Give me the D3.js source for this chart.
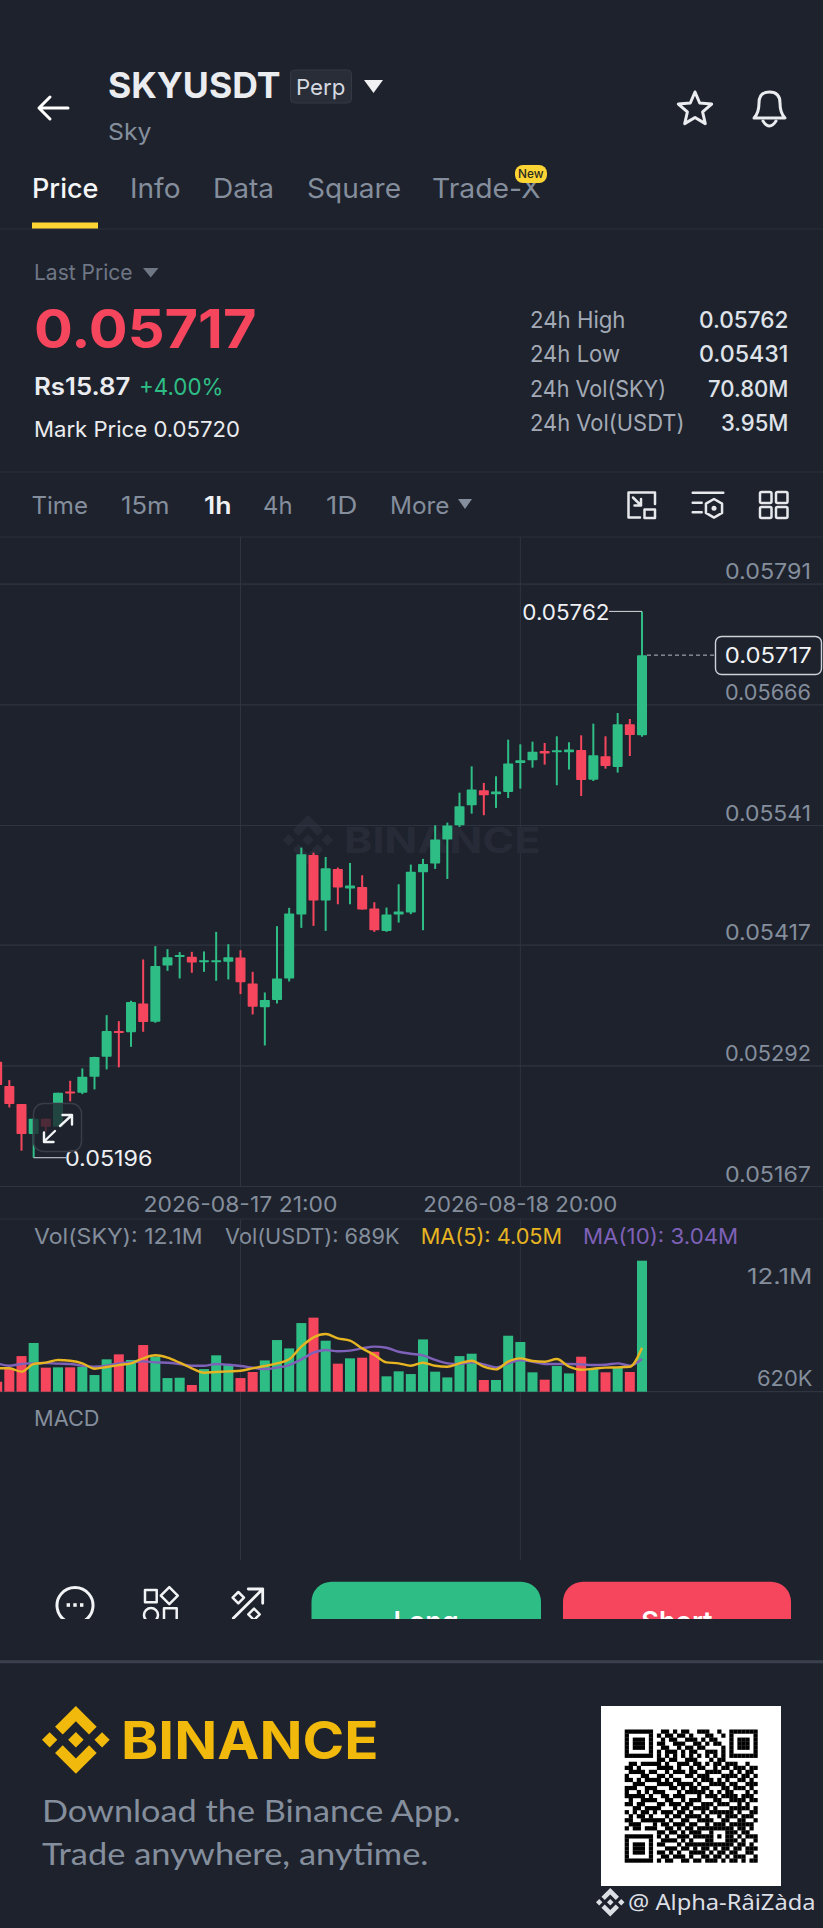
<!DOCTYPE html>
<html><head><meta charset="utf-8">
<script src="https://cdn.jsdelivr.net/npm/d3@7"></script>
<style>html,body{margin:0;padding:0;background:#1e222d}svg{display:block}text{font-family:Inter,Roboto,sans-serif}</style>
</head><body><svg id="c" width="823" height="1928"></svg>
<script>
const opens=[0.052957,0.052705,0.052519,0.052208,0.052367,0.052284,0.05265,0.052636,0.052802,0.053009,0.053275,0.053264,0.053561,0.053371,0.053955,0.054044,0.054044,0.053989,0.053989,0.053993,0.054037,0.053768,0.053523,0.053596,0.05382,0.054482,0.0551,0.054627,0.054955,0.054751,0.054769,0.054544,0.054313,0.054482,0.054503,0.05492,0.05501,0.055259,0.055407,0.055615,0.05577,0.055728,0.055753,0.056053,0.05608,0.056177,0.056163,0.056163,0.056187,0.05588,0.056122,0.056012,0.056453,0.056339];
const highs=[0.053009,0.052767,0.052519,0.052367,0.052367,0.052636,0.05276,0.052888,0.053009,0.05344,0.053378,0.053589,0.054017,0.054155,0.054124,0.054093,0.054096,0.0541,0.054303,0.054175,0.054113,0.053889,0.053675,0.054362,0.054552,0.055176,0.055124,0.055079,0.054969,0.055017,0.054889,0.05461,0.054555,0.054796,0.055,0.055059,0.055407,0.055435,0.055745,0.056018,0.055846,0.055915,0.056294,0.056246,0.056274,0.05626,0.056329,0.056267,0.056339,0.05646,0.056329,0.05657,0.056508,0.057623];
const lows=[0.052705,0.052484,0.052036,0.051963,0.052232,0.052284,0.052547,0.052622,0.052671,0.052878,0.052899,0.053112,0.053268,0.053361,0.053899,0.05382,0.053879,0.053889,0.053796,0.05381,0.053658,0.053447,0.053126,0.053561,0.053789,0.054344,0.054365,0.054313,0.054589,0.054589,0.054534,0.054303,0.054303,0.054399,0.054486,0.05432,0.054955,0.054851,0.05539,0.055528,0.055511,0.055587,0.05569,0.055787,0.056004,0.056036,0.055822,0.055984,0.055711,0.055866,0.055994,0.055953,0.056125,0.056325];
const closes=[0.052716,0.052519,0.052208,0.052367,0.052284,0.052636,0.05263,0.052802,0.053006,0.053275,0.053254,0.053575,0.053368,0.053948,0.054041,0.054062,0.053986,0.05401,0.05401,0.054041,0.053782,0.053527,0.053596,0.05382,0.054493,0.055107,0.054627,0.054962,0.054762,0.054782,0.054534,0.05432,0.054482,0.054513,0.054927,0.055007,0.055259,0.055404,0.055604,0.055777,0.055718,0.055756,0.056046,0.05608,0.05617,0.05615,0.056184,0.056191,0.055877,0.056132,0.056022,0.056453,0.056343,0.05717];
const volumes=[0.92,2.16,3.29,4.5,2.22,2.25,2.25,2.31,1.54,2.99,3.45,2.93,4.31,3.23,1.26,1.29,0.62,2.09,3.36,2.46,1.26,1.82,2.89,4.77,4.0,6.34,6.84,4.71,2.59,3.08,3.14,3.69,1.42,1.88,1.63,4.83,1.85,1.32,3.29,3.51,1.08,1.08,5.17,4.59,1.79,1.11,2.37,1.69,3.23,2.19,1.79,2.19,1.82,12.1];
const ma5=[2.16,2.16,1.85,2.56,2.68,2.93,2.86,2.62,2.12,2.28,2.46,2.62,3.08,3.36,3.14,2.68,2.16,1.75,1.82,1.88,1.94,2.16,2.37,2.62,2.99,4.16,5.02,5.33,4.93,4.71,4.0,3.39,2.71,2.62,2.40,2.68,2.40,2.31,2.62,2.86,2.31,2.06,2.77,3.08,2.83,2.77,3.02,2.31,2.03,2.12,2.22,2.25,2.31,4.05];
const ma10=[2.62,2.40,2.56,2.62,2.65,2.59,2.56,2.40,2.31,2.40,2.62,2.71,2.80,2.71,2.68,2.56,2.40,2.40,2.56,2.49,2.37,2.22,2.09,2.22,2.46,2.99,3.60,3.85,3.73,3.79,4.0,4.16,4.06,3.69,3.51,3.36,2.93,2.62,2.56,2.71,2.52,2.25,2.62,2.93,2.77,2.56,2.56,2.56,2.52,2.46,2.49,2.62,2.40,3.04];
const priceTicks=[0.05791,0.05666,0.05541,0.05417,0.05292,0.05167];
const timeTickIndex=[20,43];
const timeTickLabels=["2026-08-17 21:00","2026-08-18 20:00"];
const tabs=["Price","Info","Data","Square","Trade-X"];
const intervals=["Time","15m","1h","4h","1D","More"];
const statLabels=["24h High","24h Low","24h Vol(SKY)","24h Vol(USDT)"];
const statValues=["0.05762","0.05431","70.80M","3.95M"];
const qrRows=["111111100110101100111001001111111","100000101011011010001100101000001","101110100101100111010110001011101","101110101100111001101011001011101","101110100110010110110000101011101","100000101011101011001110101000001","111111101010101010101010101111111","000000001101100111000101100000000","011011111010011101101011011100100","110100001111010010110010110111011","011110110010111011001111001010110","100011001101000110111000111101101","110101111010110001011101010011010","001110001111011110100111101100111","111001110001101011011000110111010","100101011100010111110101011000101","111110100110111000101110111101110","010011110011001011100011001111011","110110001101110110011101110010100","001101111000101101111010001111101","101011010111011010010111111010011","010110100010110111101001011101110","110011111101001100111100110011001","011100010110111011001011101111110","101101110011010110111111111011010","000000001101101011100100011101100","111111101010011101111101011010111","100000100111101010001100011101001","101110101100010111111111111011010","101110100011101101011010110110111","101110101101010011110101101100110","100000100110111010011011010111001","111111101011001101101110101101011"];

const BG="#1e222d",GREEN="#2ebd85",RED="#f6465d",GRID="#2f3440",GREY="#848e9c",LITE="#eaecef";
const LOGO="M38.73 53.2l24.59-24.58 24.6 24.6 14.3-14.31L63.32 0 24.42 38.9 38.73 53.2z M0 63.31l14.3-14.31 14.31 14.31-14.31 14.3z M38.73 73.41l24.59 24.59 24.6-24.6 14.31 14.29-38.9 38.91-38.91-38.88-.02-.02 14.33-14.29z M98 63.31l14.31-14.31 14.3 14.31-14.3 14.3z M77.83 63.3L63.32 48.78 52.59 59.51l-1.24 1.23-2.54 2.54 14.51 14.5 14.51-14.47z";

const svg=d3.select("#c");
svg.append("rect").attr("width",823).attr("height",1928).attr("fill",BG);
function T(x,y,s,size,fill,width,weight,font,parent){
  const t=(parent||svg).append("text").attr("x",width?x-1:x).attr("y",y).attr("font-size",size).attr("fill",fill).text(s);
  if(width){t.attr("textLength",width+1.5).attr("lengthAdjust","spacingAndGlyphs");}
  if(weight)t.attr("font-weight",weight);
  if(font)t.style("font-family",font);
  return t;
}
function line(x1,y1,x2,y2,c,w,parent){return (parent||svg).append("line").attr("x1",x1).attr("y1",y1).attr("x2",x2).attr("y2",y2).attr("stroke",c).attr("stroke-width",w||1);}
function tri(pts,c){svg.append("polygon").attr("points",pts).attr("fill",c);}
function icon(d,w,c,parent){return (parent||svg).append("path").attr("d",d).attr("fill","none").attr("stroke",c||LITE).attr("stroke-width",w||2.5).attr("stroke-linejoin","round").attr("stroke-linecap","round");}

// ---------- header ----------
icon("M68 108H39M50 97L39 108L50 119",3,"#fff");
T(109,98,"SKYUSDT",35,LITE,171,700);
svg.append("rect").attr("x",290.5).attr("y",70).attr("width",61).attr("height",33).attr("rx",4).attr("fill","#282d38").attr("stroke","#343945");
T(297,95,"Perp",22,"#d5d9e0",48);
tri("364,80 383,80 373.5,93","#f0f1f3");
T(109,140,"Sky",23,GREY,42);
const star=d3.range(10).map(i=>{const r=i%2?8:17.5,a=-Math.PI/2+i*Math.PI/5;return [695+r*Math.cos(a),109.5+r*Math.sin(a)];});
icon("M"+star.join("L")+"Z",3,LITE);
icon("M754 118Q759 113 759 103Q759 92 769.5 92Q780 92 780 103Q780 113 785 118Z",3,LITE);
icon("M763 121Q769.5 131 776 121",3,LITE);

const tabX=[[33,65],[131,49],[214,59.5],[308,92.5],[433,107]];
tabs.forEach((t,i)=>T(tabX[i][0],198,t,27,i?GREY:"#f5f6f7",tabX[i][1],i?400:500));
svg.append("rect").attr("x",515).attr("y",165).attr("width",32).attr("height",18).attr("rx",8).attr("fill","#fcd535");
T(519,178,"New",12,"#2a2a20",24,500);
svg.append("rect").attr("x",32).attr("y",222.5).attr("width",66).attr("height",6.5).attr("fill","#fcd535");
line(0,229,823,229,"#2a2f3a",1.2);

// ---------- price summary ----------
T(35,279.5,"Last Price",21.5,"#6f7785",97);
tri("143,268 158.5,268 150.7,277.5","#6f7785");
T(35,348,"0.05717",54,RED,221,700);
T(35,395,"Rs15.87",24,LITE,95,600);
T(140,395,"+4.00%",23.5,GREEN,83);
T(35,437,"Mark Price 0.05720",22,LITE,204.5);
const statY=[328,362,397,430.5],statW=[94,88.5,134.5,153],valX=[700,700,709,722];
statLabels.forEach((s,i)=>{
  T(531,statY[i],s,23,"#a3aab5",statW[i]);
  T(valX[i],statY[i],statValues[i],23,"#dfe3e9",788-valX[i],500);
});
line(0,472,823,472,"#2a2f3a",1.2);

const ivX=[[32.5,55],[122,47],[205,26],[264,28],[327,30],[391,58]];
intervals.forEach((s,i)=>T(ivX[i][0],514,s,24,s==="1h"?"#f0f1f3":GREY,ivX[i][1],s==="1h"?600:400));
tri("458,499 472,499 465,509",GREY);
icon("M655 504V492.5H628.5V517.5H640",2.5,"#e6e8ec");
icon("M644.5 509.5H655V518H644.5Z",2.5,"#e6e8ec");
icon("M633 497.5L641 505.5M641 499V505.5H634.5",2.5,"#e6e8ec");
icon("M692.7 492.7H723.3M692.7 502.7H701.7M692.7 512.3H701.7",2.5,"#e6e8ec");
const hex=d3.range(6).map(i=>{const a=-Math.PI/2+i*Math.PI/3;return [714+9.3*Math.cos(a),508.3+9.3*Math.sin(a)];});
icon("M"+hex.join("L")+"Z",2.5,"#e6e8ec");
svg.append("circle").attr("cx",714).attr("cy",508.3).attr("r",2.5).attr("fill","#e6e8ec");
[[760,492],[776,492],[760,507],[776,507]].forEach(p=>svg.append("rect").attr("x",p[0]).attr("y",p[1]).attr("width",11.5).attr("height",11).attr("rx",1.5).attr("fill","none").attr("stroke","#e6e8ec").attr("stroke-width",2.5));
line(0,537,823,537,"#2a2f3a",1.2);

// ---------- scales ----------
const x=d3.scaleLinear().domain([0,53]).range([-2.83,642]);
const y=d3.scaleLinear().domain([0.05167,0.05791]).range([1186,583.7]);
const v=d3.scaleLinear().domain([0,12.1]).range([1391.7,1260.7]);

// vertical grid
timeTickIndex.forEach(i=>{line(x(i),537,x(i),1186,GRID,1);line(x(i),1219,x(i),1560,GRID,1);});

// watermark
svg.append("path").attr("d",LOGO).attr("fill","#272b37").attr("transform","translate(283,815) scale(0.395)");
T(345,853,"BINANCE",36,"#272b37",195,700);

// price axis
const yAxis=d3.axisRight(y).tickValues(priceTicks).tickSize(823).tickFormat(d3.format(".5f"));
const ya=svg.append("g").call(yAxis);
ya.select(".domain").remove();
ya.selectAll(".tick line").attr("stroke",GRID).attr("stroke-width",1.2);
ya.selectAll(".tick text").attr("x",811).attr("dy",-5).attr("text-anchor","end").attr("font-size",21).attr("fill",GREY)
  .attr("textLength",86).attr("lengthAdjust","spacingAndGlyphs").style("font-family","Inter");

// time axis
const xAxis=d3.axisBottom(x).tickValues(timeTickIndex).tickSize(0).tickFormat((d,i)=>timeTickLabels[i]);
const xa=svg.append("g").attr("transform","translate(0,1190)").call(xAxis);
xa.select(".domain").remove();
xa.selectAll(".tick text").attr("y",22).attr("dy",0).attr("dx",-0.5).attr("font-size",21).attr("fill",GREY)
  .attr("textLength",194).attr("lengthAdjust","spacingAndGlyphs").style("font-family","Inter");
line(0,1219,823,1219,"#2a2f3a",1.2);

// candles
const idx=d3.range(opens.length);
const col=i=>closes[i]>=opens[i]?GREEN:RED;
const cg=svg.append("g");
cg.selectAll("line").data(idx).join("line").attr("x1",x).attr("x2",x).attr("y1",i=>y(highs[i])).attr("y2",i=>y(lows[i])).attr("stroke",col).attr("stroke-width",2);
cg.selectAll("rect").data(idx).join("rect").attr("x",i=>x(i)-5).attr("width",10)
  .attr("y",i=>y(Math.max(opens[i],closes[i]))).attr("height",i=>Math.max(2,Math.abs(y(opens[i])-y(closes[i])))).attr("rx",0.8).attr("fill",col);

// high, low and last markers
const last=idx.length-1,hiI=d3.maxIndex(highs),loI=d3.minIndex(lows);
line(x(hiI)-33,y(highs[hiI]),x(hiI),y(highs[hiI]),"#d5d8dd",1);
T(523.3,y(highs[hiI])+8.3,"0.05762",21,"#eef0f3",85.7);
line(x(loI),y(lows[loI]),66,y(lows[loI]),"#d5d8dd",1);
T(66,y(lows[loI])+8.3,"0.05196",21,"#eef0f3",86);
line(x(last)+5,y(closes[last]),715,y(closes[last]),"#b9bdc5",1).attr("stroke-dasharray","4 3");
svg.append("rect").attr("x",715.5).attr("y",636.5).attr("width",106).attr("height",38).attr("rx",6).attr("fill",BG).attr("stroke","#cdd1d8").attr("stroke-width",1.4);
T(725.7,662.5,d3.format(".5f")(closes[last]),21,"#f2f3f5",85.5);

// expand button
svg.append("rect").attr("x",33.5).attr("y",1103.5).attr("width",48).attr("height",48).attr("rx",10).attr("fill","rgba(30,34,45,0.78)").attr("stroke","#383d49").attr("stroke-width",1.5);
icon("M60 1126L71.5 1115.5M62.5 1115H72V1124.5M55 1131L44 1141.5M53.5 1142H44V1132.5",2.4,"#f2f3f5");

// volume panel
T(35,1243.5,"Vol(SKY): 12.1M",21,GREY,167);
T(226,1243.5,"Vol(USDT): 689K",21,GREY,173);
T(421.7,1243.5,"MA(5): 4.05M",21,"#e7b422",140);
T(584,1243.5,"MA(10): 3.04M",21,"#7e61b8",153.7);
T(748,1284,"12.1M",21,GREY,64);
T(758,1385.7,"620K",21,GREY,54);
line(0,1391.7,823,1391.7,GRID,1.2);
svg.append("g").selectAll("rect").data(idx).join("rect").attr("x",i=>x(i)-5).attr("width",10)
  .attr("y",i=>v(volumes[i])).attr("height",i=>v(0)-v(volumes[i])).attr("fill",col);
const ml=d3.line().x(i=>x(i)).curve(d3.curveMonotoneX);
svg.append("path").attr("d",ml.y(i=>v(ma10[i]))(idx)).attr("fill","none").attr("stroke","#7e61b8").attr("stroke-width",2.4);
svg.append("path").attr("d",ml.y(i=>v(ma5[i]))(idx)).attr("fill","none").attr("stroke","#e7b422").attr("stroke-width",2.4);

T(35,1426,"MACD",21,GREY,64);

// ---------- clipped action row ----------
svg.append("defs").append("clipPath").attr("id","row").append("rect").attr("x",0).attr("y",1560).attr("width",823).attr("height",59);
const row=svg.append("g").attr("clip-path","url(#row)");
icon("M66 1621A18 18 0 1 1 84 1621",3,"#f2f3f5",row);
[68.3,75,81.7].forEach(cx=>row.append("rect").attr("x",cx-1.7).attr("y",1603.2).attr("width",3.4).attr("height",3.6).attr("fill","#f2f3f5"));
icon("M145 1590H156.7V1602.3H145Z",2.5,"#f2f3f5",row);
icon("M169.3 1587.2L177.8 1595.7L169.3 1604.2L160.8 1595.7Z",2.5,"#f2f3f5",row);
row.append("circle").attr("cx",151).attr("cy",1615).attr("r",7).attr("fill","none").attr("stroke","#f2f3f5").attr("stroke-width",2.5);
icon("M164 1608.3H176.7V1625H164Z",2.5,"#f2f3f5",row);
icon("M233.3 1618.3L262.7 1589M248.3 1589H262.7V1603.3",2.8,"#f2f3f5",row);
icon("M238.3 1592L244 1597.7L238.3 1603.4L232.6 1597.7Z",2.5,"#f2f3f5",row);
icon("M254 1608.6L259.7 1614.3L254 1620L248.3 1614.3Z",2.5,"#f2f3f5",row);
row.append("rect").attr("x",311.5).attr("y",1581.7).attr("width",229.5).attr("height",60).attr("rx",20).attr("fill",GREEN);
row.append("rect").attr("x",563).attr("y",1581.7).attr("width",228).attr("height",60).attr("rx",20).attr("fill",RED);
T(426,1631,"Long",27,"#fff",null,600,null,row).attr("text-anchor","middle");
T(677,1631,"Short",27,"#fff",null,600,null,row).attr("text-anchor","middle");

// ---------- footer ----------
line(0,1661.7,823,1661.7,"#3a404d",3);
svg.append("path").attr("d",LOGO).attr("fill","#f0b90b").attr("transform","translate(42,1706) scale(0.535)");
T(122,1758.7,"BINANCE",52,"#f0b90b",256,700);
T(43,1821.7,"Download the Binance App.",30,GREY,417,400,"Lato");
T(43,1865,"Trade anywhere, anytime.",30,GREY,385,400,"Lato");
svg.append("rect").attr("x",601).attr("y",1706).attr("width",180).attr("height",180).attr("fill","#fff");
const qx=d3.scaleBand().domain(d3.range(33)).range([624.7,757.5]);
const qy=d3.scaleBand().domain(d3.range(33)).range([1729.5,1862.5]);
const qg=svg.append("g").attr("fill","#000");
qrRows.forEach((r,ri)=>r.split("").forEach((c,ci)=>{if(c==="1")qg.append("rect").attr("x",qx(ci)).attr("y",qy(ri)).attr("width",qx.bandwidth()+0.2).attr("height",qy.bandwidth()+0.2);}));
svg.append("path").attr("d",LOGO).attr("fill","#dcdfe4").attr("transform","translate(596,1888) scale(0.225)");
T(629,1910,"@ Alpha-RâiZàda",22,"#dcdfe4",186,400,"'Noto Sans'");
</script></body></html>
